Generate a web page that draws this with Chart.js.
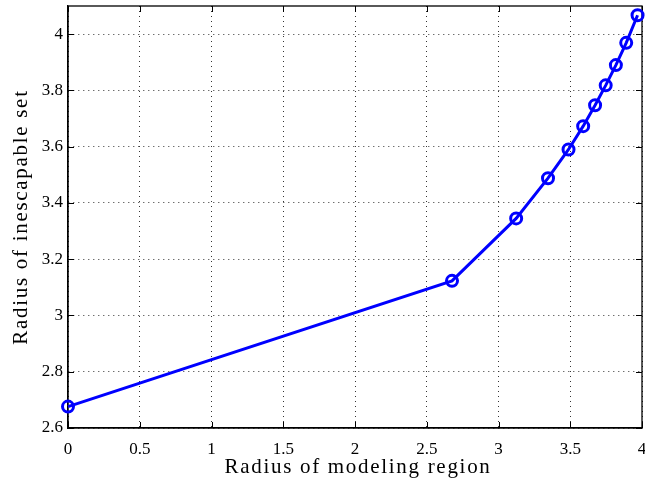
<!DOCTYPE html>
<html>
<head>
<meta charset="utf-8">
<script src="https://cdn.jsdelivr.net/npm/chart.js@4"></script>
<style>
  html, body { margin: 0; padding: 0; background: #fff; overflow: hidden; }
  canvas { display: block; }
</style>
</head>
<body>
<canvas id="grafico" width="645" height="481"></canvas>
<script>
// radio de la region de modelado (x) y radio del conjunto inescapable (y)
const radioRegion = [0, 2.676, 3.123, 3.345, 3.488, 3.590, 3.673, 3.747, 3.818, 3.890, 3.969];
const radioConjunto = [2.676, 3.123, 3.345, 3.488, 3.590, 3.673, 3.747, 3.818, 3.890, 3.969, 4.067];

const ticksX = [0, 0.5, 1, 1.5, 2, 2.5, 3, 3.5, 4];
const ticksY = [2.6, 2.8, 3, 3.2, 3.4, 3.6, 3.8, 4];

const tituloX = 'Radius of modeling region';
const tituloY = 'Radius of inescapable set';

const fuente = "'Liberation Serif', 'Times New Roman', serif";

// caja completa y marcas hacia adentro en los cuatro lados
const marco = {
    id: 'marco',
    beforeDatasetsDraw(chart) {
        const {ctx, chartArea: a, scales} = chart;
        const largo = 6;
        ctx.save();
        ctx.strokeStyle = '#000';
        ctx.lineWidth = 1.3;
        ctx.strokeRect(a.left, a.top, a.right - a.left, a.bottom - a.top);
        ctx.beginPath();
        scales.x.ticks.forEach(t => {
            const px = Math.round(scales.x.getPixelForValue(t.value)) + 0.5;
            ctx.moveTo(px, a.bottom); ctx.lineTo(px, a.bottom - largo);
            ctx.moveTo(px, a.top); ctx.lineTo(px, a.top + largo);
        });
        scales.y.ticks.forEach(t => {
            const py = Math.round(scales.y.getPixelForValue(t.value)) + 0.5;
            ctx.moveTo(a.left, py); ctx.lineTo(a.left + largo, py);
            ctx.moveTo(a.right, py); ctx.lineTo(a.right - largo, py);
        });
        ctx.lineWidth = 1;
        ctx.stroke();
        ctx.restore();
    },
    // titulos de los ejes, con algo de espaciado entre letras
    afterDraw(chart) {
        const {ctx, chartArea: a} = chart;
        ctx.save();
        ctx.font = '21px ' + fuente;
        ctx.letterSpacing = '1.7px';
        ctx.fillStyle = '#000';
        ctx.textAlign = 'center';
        ctx.textBaseline = 'alphabetic';
        ctx.fillText(tituloX, (a.left + a.right) / 2 + 3, a.bottom + 45);
        ctx.translate(27, (a.top + a.bottom) / 2);
        ctx.rotate(-Math.PI / 2);
        ctx.fillText(tituloY, 0, 0);
        ctx.restore();
    }
};

new Chart(document.getElementById('grafico'), {
    type: 'line',
    data: {
        datasets: [{
            data: radioRegion.map((x, i) => ({x: x, y: radioConjunto[i]})),
            borderColor: '#0000ff',
            borderWidth: 3,
            pointStyle: 'circle',
            pointRadius: 5.5,
            pointBorderWidth: 3,
            pointBackgroundColor: 'rgba(0,0,0,0)',
            pointBorderColor: '#0000ff',
            tension: 0,
            clip: false
        }]
    },
    options: {
        responsive: false,
        animation: false,
        layout: { autoPadding: false, padding: { left: 0, right: 3, top: 6, bottom: 0 } },
        plugins: {
            legend: { display: false },
            tooltip: { enabled: false }
        },
        scales: {
            x: {
                type: 'linear',
                min: 0,
                max: 4,
                afterBuildTicks: s => { s.ticks = ticksX.map(v => ({value: v})); },
                afterFit: s => { s.height = 53; s.paddingLeft = 0; s.paddingRight = 0; },
                grid: { color: '#333', lineWidth: 1, drawTicks: false },
                border: { color: '#000', width: 1.3, dash: [1, 4] },
                ticks: {
                    color: '#000', padding: 11, maxRotation: 0,
                    font: { family: fuente, size: 17 },
                    callback: v => String(v)
                }
            },
            y: {
                type: 'linear',
                min: 2.6,
                max: 4.1,
                afterBuildTicks: s => { s.ticks = ticksY.map(v => ({value: v})); },
                afterFit: s => { s.width = 68; s.paddingTop = 0; s.paddingBottom = 0; },
                grid: { color: '#333', lineWidth: 1, drawTicks: false },
                border: { color: '#000', width: 1.3, dash: [1, 4] },
                ticks: {
                    color: '#000', padding: 5,
                    font: { family: fuente, size: 17 },
                    callback: v => String(v)
                }
            }
        }
    },
    plugins: [marco]
});
</script>
</body>
</html>
